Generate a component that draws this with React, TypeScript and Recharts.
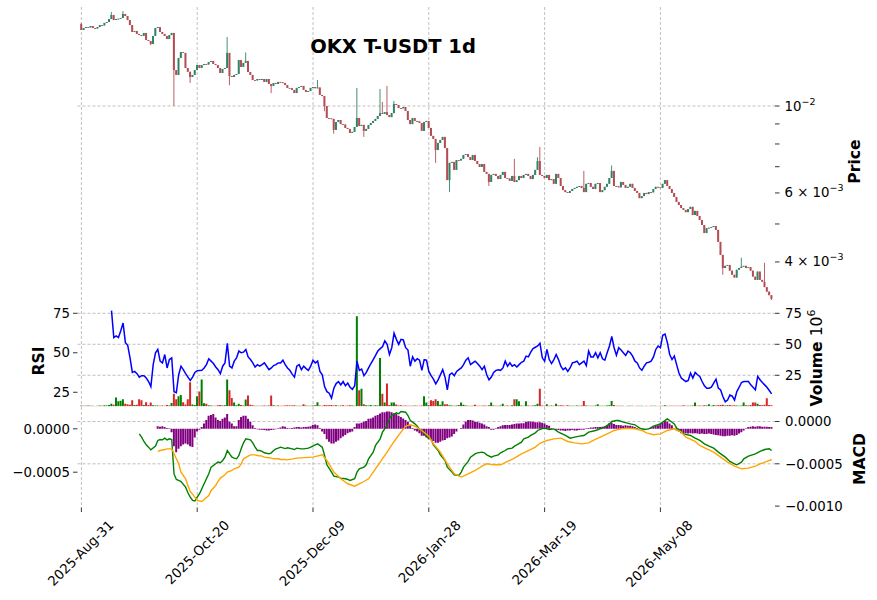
import React from 'react'
import { ComposedChart, Bar, Line, XAxis, YAxis, CartesianGrid, Cell } from 'recharts'

// ---- data ----

// x axis: one candle per day, day 0 = 2025-08-31
const tickIndexes = [0, 50, 100, 150, 200, 250]
const tickDates = ['2025-Aug-31', '2025-Oct-20', '2025-Dec-09', '2026-Jan-28', '2026-Mar-19', '2026-May-08']

// daily close, in 1e-4 USDT
const closes = [
  156.3, 158.1, 159.0, 158.6, 160.0, 158.1, 157.6, 159.0, 160.9, 160.5,
  162.9, 163.8, 166.7, 170.7, 165.7, 166.7, 167.0, 167.7, 171.7, 169.7,
  165.7, 160.9, 154.5, 155.4, 152.7, 151.7, 151.0, 153.6, 147.4, 146.5,
  143.9, 150.9, 158.1, 159.0, 154.5, 152.7, 150.9, 148.2, 151.7, 153.6,
  123.5, 120.0, 132.6, 137.3, 136.6, 125.0, 122.3, 118.6, 120.0, 123.5,
  127.2, 125.0, 127.2, 128.0, 127.6, 129.5, 130.3, 128.0, 127.2, 125.0,
  121.4, 124.3, 125.0, 136.6, 119.3, 118.6, 120.0, 120.7, 131.0, 125.8,
  128.8, 130.3, 122.1, 120.0, 116.5, 116.2, 117.2, 116.5, 117.2, 115.2,
  117.2, 113.8, 112.5, 114.5, 113.8, 115.2, 115.0, 114.5, 113.1, 111.2,
  111.0, 109.9, 107.9, 111.2, 111.8, 112.5, 109.9, 108.6, 109.2, 111.2,
  111.8, 111.0, 111.5, 106.7, 106.0, 100.0, 93.2, 93.0, 92.7, 86.9,
  91.0, 92.1, 89.9, 89.7, 87.9, 87.4, 85.4, 85.9, 88.4, 93.2,
  88.9, 89.5, 86.4, 87.4, 89.4, 90.5, 91.6, 92.7, 94.3, 95.9,
  95.5, 96.5, 94.8, 93.7, 95.9, 101.2, 100.6, 98.8, 98.6, 99.4,
  97.1, 92.1, 89.9, 93.2, 91.6, 91.4, 90.5, 86.4, 91.0, 91.6,
  87.9, 83.9, 82.4, 77.2, 80.5, 81.9, 83.4, 78.1, 64.7, 71.6,
  72.0, 68.7, 72.8, 72.6, 73.3, 75.0, 75.4, 74.1, 72.8, 75.0,
  72.4, 71.1, 69.9, 71.1, 67.9, 67.1, 64.0, 66.7, 67.1, 66.3,
  65.1, 66.7, 67.9, 65.5, 65.3, 64.4, 66.3, 64.0, 64.7, 66.3,
  65.5, 66.7, 67.1, 66.3, 65.1, 66.7, 68.7, 72.4, 66.7, 66.3,
  65.5, 66.7, 64.7, 65.1, 63.3, 67.1, 65.5, 62.5, 61.0, 60.3,
  60.0, 60.7, 61.4, 61.8, 62.2, 62.5, 61.8, 60.3, 63.3, 63.6,
  62.2, 61.4, 63.3, 63.6, 60.3, 61.0, 62.2, 63.3, 65.5, 68.3,
  62.5, 62.4, 62.0, 64.0, 62.9, 61.8, 62.2, 63.3, 61.8, 60.7,
  60.0, 58.2, 58.9, 60.0, 59.6, 60.3, 60.2, 61.4, 62.2, 62.0,
  61.8, 63.3, 64.7, 62.5, 61.4, 60.0, 58.6, 56.9, 55.9, 54.9,
  54.3, 53.6, 54.6, 55.3, 52.7, 54.0, 52.4, 51.2, 49.7, 47.4,
  48.8, 48.9, 49.1, 49.4, 48.3, 45.0, 41.7, 38.6, 39.1, 39.3,
  38.0, 37.1, 36.5, 38.2, 38.6, 38.9, 39.1, 38.6, 38.8, 38.0,
  36.7, 36.0, 37.8, 36.0, 35.6, 34.5, 33.6, 32.9, 32.2,
]
const firstOpen = 161.8

// visible wicks [day, price in 1e-4]
const wickHighs: [number, number][] = [
  [0, 163.0], [13, 173.7], [18, 174.7], [63, 150.0], [71, 137.0], [102, 116.5],
  [119, 111.2], [129, 110.5], [130, 102.4], [132, 112.5], [135, 103.0], [187, 73.3],
  [197, 74.0], [198, 78.6], [217, 68.3], [229, 70.5], [285, 41.0], [295, 39.8],
]
const wickLows: [number, number][] = [
  [30, 143.0], [40, 100.0], [47, 114.5], [64, 113.0], [82, 107.9], [105, 97.0],
  [109, 85.0], [122, 83.4], [153, 71.6], [159, 60.3], [176, 62.5], [277, 37.1], [298, 32.0],
]

// volume, millions
const volumes = [
  0.6, 0.4, 0.5, 0.7, 0.4, 0.5, 0.3, 0.4, 0.6, 0.5,
  0.8, 0.7, 1.0, 2.0, 1.2, 7.0, 4.0, 4.5, 5.6, 2.0,
  1.6, 1.2, 4.8, 1.0, 1.2, 5.6, 4.8, 1.0, 3.2, 1.0,
  3.0, 0.8, 0.7, 0.6, 0.5, 0.6, 0.5, 1.0, 0.6, 2.7,
  10.0, 5.6, 8.0, 9.0, 3.2, 1.5, 5.6, 19.4, 1.5, 1.0,
  8.0, 12.0, 21.5, 2.5, 2.0, 0.8, 0.6, 0.5, 0.4, 0.8,
  1.0, 0.6, 0.8, 21.5, 13.0, 6.7, 3.0, 0.8, 2.0, 1.0,
  0.6, 5.4, 8.6, 1.2, 0.8, 0.5, 0.4, 0.5, 0.4, 0.6,
  0.5, 0.6, 8.6, 0.8, 0.5, 0.6, 0.4, 0.5, 0.6, 0.8,
  0.7, 0.6, 0.8, 0.5, 0.4, 0.5, 1.6, 0.6, 0.5, 0.4,
  0.6, 0.8, 3.2, 0.6, 0.5, 1.0, 0.8, 0.9, 1.0, 0.6,
  0.8, 0.5, 0.6, 0.8, 0.5, 0.6, 0.8, 0.6, 0.5, 72.6,
  12.9, 14.2, 1.6, 0.8, 0.6, 1.0, 0.5, 0.8, 0.6, 39.0,
  10.0, 3.0, 18.3, 1.0, 3.0, 3.0, 1.5, 0.6, 0.8, 0.5,
  0.6, 0.5, 0.4, 0.5, 0.6, 0.4, 0.5, 0.6, 8.0, 3.0,
  1.0, 4.8, 4.3, 5.6, 4.3, 1.2, 4.0, 1.6, 1.6, 0.8,
  0.6, 0.5, 0.6, 1.0, 3.0, 1.2, 0.6, 0.5, 0.4, 0.5,
  1.2, 0.5, 0.4, 0.5, 0.6, 0.5, 0.8, 3.0, 0.6, 0.5,
  0.4, 0.6, 2.0, 0.5, 0.6, 0.5, 0.8, 5.6, 5.6, 4.0,
  0.6, 0.5, 4.0, 0.6, 0.5, 0.6, 0.8, 2.0, 14.2, 0.6,
  0.5, 1.6, 0.5, 0.6, 0.5, 2.0, 0.6, 0.8, 0.6, 0.5,
  0.8, 0.4, 0.5, 0.4, 0.6, 0.5, 0.6, 4.3, 0.6, 0.5,
  0.4, 0.5, 0.6, 1.6, 0.5, 0.4, 0.5, 0.6, 0.8, 4.3,
  1.0, 0.5, 0.4, 0.5, 0.4, 0.3, 0.4, 0.5, 0.4, 0.3,
  0.4, 0.5, 0.4, 0.3, 0.4, 0.3, 0.4, 0.5, 0.4, 0.3,
  0.4, 0.5, 0.8, 0.5, 0.4, 0.5, 0.4, 0.5, 0.4, 0.5,
  0.8, 0.5, 0.4, 0.5, 0.6, 3.0, 0.5, 0.6, 0.5, 0.8,
  0.6, 1.6, 0.5, 1.0, 0.6, 0.8, 1.0, 1.2, 0.6, 0.8,
  1.0, 0.6, 0.8, 0.6, 0.5, 0.6, 3.0, 0.8, 0.6, 1.0,
  3.0, 3.0, 2.0, 1.0, 0.8, 1.2, 6.5, 1.0, 0.8,
]

// RSI(14)
const rsiValues: (number | null)[] = [
  null, null, null, null, null, null, null, null, null, null,
  null, null, null, 76.7, 59.6, 60.7, 59.6, 63.9, 68.8, 56.4,
  54.7, 46.8, 37.6, 38.2, 36.8, 34.6, 35.5, 35.5, 34.0, 31.8,
  28.6, 42.5, 50.0, 52.1, 44.7, 43.6, 48.9, 40.4, 45.7, 46.8,
  25.4, 24.8, 36.1, 41.5, 39.3, 36.8, 34.6, 32.5, 34.6, 37.6,
  38.7, 38.8, 38.9, 40.4, 42.5, 46.2, 44.7, 43.2, 41.0, 39.3,
  36.8, 41.5, 43.6, 56.0, 41.5, 40.4, 44.7, 46.8, 51.1, 50.0,
  50.4, 52.1, 47.4, 45.7, 43.6, 41.0, 42.5, 41.5, 42.5, 43.6,
  41.5, 39.3, 40.4, 41.9, 42.5, 43.6, 43.6, 45.3, 42.5, 40.4,
  38.9, 36.5, 34.6, 41.5, 42.5, 39.3, 41.5, 40.0, 38.9, 41.5,
  45.3, 43.6, 44.7, 38.2, 36.1, 28.6, 25.4, 24.4, 21.2, 27.6,
  30.5, 31.8, 29.7, 31.8, 29.1, 30.8, 28.2, 26.9, 29.1, 44.7,
  38.9, 39.7, 35.5, 37.6, 40.4, 43.2, 45.7, 48.3, 51.1, 52.6,
  53.8, 57.5, 55.3, 48.9, 53.2, 62.4, 58.5, 55.3, 58.5, 58.1,
  53.2, 51.7, 41.5, 47.4, 44.7, 46.2, 45.3, 38.9, 45.7, 45.3,
  38.2, 35.5, 33.3, 30.3, 32.9, 36.0, 39.3, 34.6, 26.5, 36.1,
  37.2, 35.5, 38.2, 39.3, 40.4, 42.5, 45.3, 46.8, 42.5, 43.6,
  44.7, 43.2, 41.5, 39.3, 41.5, 36.1, 32.9, 34.6, 37.6, 38.9,
  39.3, 38.9, 40.4, 44.7, 41.5, 43.6, 41.5, 42.5, 41.0, 42.5,
  44.0, 44.7, 47.9, 47.4, 50.4, 52.6, 53.5, 54.3, 56.0, 46.8,
  44.7, 52.1, 45.7, 43.2, 45.7, 48.9, 45.7, 41.5, 39.3, 40.4,
  38.2, 40.4, 43.6, 44.0, 44.7, 42.5, 43.6, 44.7, 41.9, 51.1,
  47.4, 47.4, 50.0, 46.8, 50.0, 46.2, 45.3, 50.0, 54.3, 60.3,
  53.2, 48.5, 53.2, 51.7, 50.0, 48.3, 51.1, 50.0, 47.9, 44.7,
  43.6, 40.4, 38.9, 41.5, 43.6, 44.0, 44.7, 47.4, 52.1, 54.3,
  53.2, 61.1, 61.8, 56.4, 48.9, 45.7, 47.9, 42.5, 37.2, 34.0,
  32.9, 31.8, 32.5, 37.2, 34.0, 37.6, 36.1, 35.0, 31.8, 29.1,
  27.6, 27.6, 28.2, 30.8, 33.3, 27.6, 26.5, 22.2, 19.0, 20.1,
  23.3, 22.6, 20.1, 25.4, 28.2, 31.2, 31.8, 31.8, 31.8, 29.7,
  28.2, 26.5, 35.0, 32.9, 31.2, 29.7, 28.2, 26.1, 24.0,
]

// MACD line and signal, [day, value in 1e-4]
const macdPoints: [number, number][] = [
  [25, -1.46], [26, -1.85], [27, -2.36], [28, -2.76], [29, -3.03], [30, -3.35], [32, -2.91], [33, -2.24],
  [34, -2.13], [35, -2.17], [36, -1.97], [37, -2.17], [38, -2.05], [39, -2.13], [40, -6.2], [41, -6.85],
  [42, -6.97], [43, -7.09], [45, -7.76], [46, -8.43], [47, -8.94], [48, -9.33], [49, -9.4], [50, -8.94],
  [51, -8.54], [52, -7.95], [53, -7.36], [54, -6.77], [55, -6.18], [56, -5.39], [58, -5.0], [59, -4.8],
  [60, -4.88], [61, -4.61], [62, -4.21], [63, -3.43], [64, -3.82], [65, -4.21], [66, -4.33], [67, -4.41],
  [68, -4.02], [69, -3.23], [70, -2.52], [71, -2.05], [73, -2.17], [74, -2.52], [75, -3.03], [76, -3.43],
  [77, -3.43], [78, -3.54], [79, -3.7], [81, -3.82], [82, -3.7], [83, -3.43], [84, -3.23], [85, -3.15],
  [86, -3.03], [88, -3.2], [89, -3.1], [91, -3.23], [92, -3.31], [93, -3.15], [95, -3.23], [96, -3.23],
  [98, -3.15], [99, -3.03], [101, -2.76], [102, -2.64], [104, -3.03], [105, -4.02], [106, -5.12], [108, -5.98],
  [109, -6.46], [111, -6.57], [112, -6.69], [114, -6.77], [115, -6.85], [116, -6.97], [118, -6.77], [119, -5.98],
  [120, -5.59], [122, -5.39], [123, -5.12], [124, -4.41], [126, -3.62], [127, -2.83], [129, -2.05], [130, -1.26],
  [132, -0.47], [133, 0.31], [134, 0.71], [136, 1.02], [137, 0.91], [138, 1.18], [140, 1.1], [141, 0.71],
  [142, 0.12], [144, -0.28], [145, -0.55], [146, -0.94], [148, -1.34], [149, -1.73], [151, -2.13], [152, -2.76],
  [154, -3.43], [155, -3.94], [157, -4.61], [158, -5.39], [160, -5.98], [161, -6.3], [163, -6.38], [164, -5.98],
  [165, -5.39], [167, -4.72], [168, -4.21], [170, -3.82], [171, -3.7], [173, -3.62], [174, -3.7], [175, -3.94],
  [177, -4.21], [178, -4.09], [180, -3.94], [181, -3.7], [183, -3.43], [184, -3.23], [186, -3.15], [187, -2.91],
  [188, -2.76], [190, -2.44], [191, -2.05], [193, -1.85], [194, -1.65], [196, -1.34], [197, -1.06], [199, -0.83],
  [200, -0.79], [202, -0.94], [204, -0.87], [206, -1.26], [209, -1.65], [211, -1.97], [213, -1.85], [215, -1.73],
  [217, -1.65], [219, -1.26], [222, -1.06], [224, -0.87], [226, -0.67], [228, -0.28], [229, 0.0], [231, 0.12],
  [232, 0.12], [234, -0.08], [237, -0.28], [239, -0.39], [241, -0.79], [243, -0.94], [245, -0.87], [247, -0.55],
  [250, -0.28], [251, -0.08], [253, 0.31], [254, 0.12], [256, -0.28], [257, -0.79], [259, -1.18], [260, -1.46],
  [263, -1.65], [265, -1.97], [267, -2.24], [269, -2.64], [271, -2.91], [273, -3.15], [275, -3.62], [278, -4.21],
  [280, -4.72], [282, -5.0], [283, -5.12], [285, -4.8], [286, -4.41], [288, -4.09], [291, -3.82], [293, -3.54],
  [295, -3.31], [297, -3.23], [298, -3.43],
]
const signalPoints: [number, number][] = [
  [33, -3.54], [34, -3.43], [36, -3.31], [37, -3.23], [39, -3.23], [40, -3.82], [42, -5.0], [43, -5.98],
  [45, -6.77], [46, -7.56], [47, -8.27], [49, -8.94], [50, -9.33], [52, -9.45], [53, -9.21], [55, -8.74],
  [56, -8.15], [58, -7.56], [59, -7.09], [60, -6.69], [62, -6.3], [63, -5.98], [65, -5.79], [66, -5.59],
  [68, -5.39], [69, -5.0], [70, -4.41], [72, -4.09], [73, -3.94], [75, -3.94], [76, -4.02], [78, -4.09],
  [79, -4.21], [81, -4.29], [82, -4.33], [83, -4.41], [85, -4.41], [86, -4.49], [88, -4.49], [89, -4.53],
  [93, -4.33], [100, -4.21], [104, -3.94], [106, -4.61], [109, -5.98], [112, -6.77], [115, -7.36], [118, -7.64],
  [121, -7.24], [124, -6.77], [126, -5.98], [129, -4.8], [132, -3.62], [135, -2.36], [138, -1.26], [140, -0.55],
  [142, -0.39], [144, -0.55], [147, -1.06], [150, -1.73], [152, -2.64], [155, -3.62], [158, -5.0], [161, -6.18],
  [164, -6.57], [167, -6.18], [170, -5.79], [173, -5.28], [175, -5.0], [178, -5.12], [181, -5.12], [184, -4.72],
  [187, -4.33], [190, -3.82], [193, -3.43], [196, -3.03], [198, -2.58], [201, -2.24], [204, -2.05], [207, -1.97],
  [210, -2.36], [213, -2.52], [216, -2.64], [219, -2.52], [221, -2.24], [224, -1.85], [227, -1.46], [230, -1.06],
  [233, -0.87], [236, -0.79], [239, -0.87], [242, -1.06], [244, -1.34], [247, -1.57], [250, -1.46], [253, -1.06],
  [256, -0.87], [259, -1.26], [261, -1.85], [265, -2.36], [267, -2.83], [270, -3.23], [273, -3.62], [276, -4.21],
  [279, -4.8], [282, -5.28], [285, -5.59], [288, -5.51], [291, -5.28], [293, -5.0], [296, -4.72], [298, -4.49],
]

// MACD histogram, 1e-4
const histValues: (number | null)[] = [
  null, null, null, null, null, null, null, null, null, null,
  null, null, null, null, null, null, null, null, null, null,
  null, null, null, null, null, null, null, null, null, null,
  null, null, null, 0.3, 0.25, 0.3, 0.2, 0.1, 0.05, -0.4,
  -2.0, -2.7, -2.3, -2.0, -1.8, -1.7, -1.8, -2.0, -2.1, -1.0,
  -0.3, -0.1, 0.2, 0.6, 1.0, 1.5, 1.6, 1.7, 1.3, 1.0,
  0.9, 1.15, 1.3, 1.7, 0.8, 0.6, 0.3, 0.3, 1.0, 1.35,
  1.5, 1.5, 1.15, 0.8, 0.4, 0.1, -0.05, -0.1, -0.1, -0.15,
  -0.2, -0.2, -0.15, -0.1, -0.05, 0.05, 0.15, 0.3, 0.25, 0.1,
  0.05, 0.1, 0.15, 0.2, 0.2, 0.15, 0.2, 0.2, 0.25, 0.3,
  0.45, 0.5, 0.4, 0.1, -0.3, -0.6, -1.2, -1.5, -1.7, -1.7,
  -1.5, -1.35, -1.1, -0.9, -0.7, -0.5, -0.4, -0.3, 0.2, 0.6,
  0.6, 0.7, 0.8, 0.9, 1.15, 1.2, 1.3, 1.5, 1.6, 1.75,
  1.9, 1.9, 2.0, 2.0, 1.9, 1.8, 1.7, 1.5, 1.35, 1.2,
  1.0, 0.8, 0.4, 0.1, -0.2, -0.3, -0.5, -0.8, -0.8, -1.0,
  -1.2, -1.3, -1.4, -1.6, -1.6, -1.5, -1.35, -1.3, -1.1, -1.0,
  -0.9, -0.6, -0.3, 0.0, 0.1, 0.5, 0.85, 1.0, 1.0, 0.95,
  0.8, 0.8, 0.7, 0.6, 0.5, 0.3, 0.2, -0.1, -0.1, 0.05,
  0.2, 0.3, 0.4, 0.45, 0.45, 0.45, 0.5, 0.55, 0.6, 0.6,
  0.65, 0.65, 0.8, 0.85, 0.85, 0.8, 0.75, 0.75, 0.75, 0.7,
  0.6, 0.45, 0.35, 0.1, 0.0, -0.1, -0.15, -0.2, -0.2, -0.25,
  -0.2, -0.2, -0.15, -0.2, -0.2, -0.15, -0.1, -0.1, 0.05, 0.1,
  0.15, 0.15, 0.2, 0.2, 0.2, 0.25, 0.3, 0.45, 0.65, 0.7,
  0.55, 0.45, 0.45, 0.4, 0.35, 0.4, 0.35, 0.35, 0.3, 0.2,
  0.1, 0.0, -0.05, -0.05, 0.0, 0.05, 0.15, 0.3, 0.35, 0.4,
  0.6, 0.7, 0.9, 0.85, 0.6, 0.4, 0.1, -0.2, -0.3, -0.5,
  -0.55, -0.5, -0.55, -0.5, -0.55, -0.5, -0.55, -0.6, -0.55, -0.6,
  -0.6, -0.55, -0.6, -0.65, -0.7, -0.75, -0.8, -0.85, -0.85, -0.8,
  -0.8, -0.75, -0.8, -0.7, -0.55, -0.4, -0.2, 0.05, 0.2, 0.25,
  0.3, 0.25, 0.3, 0.3, 0.25, 0.25, 0.25, 0.2, 0.2,
]

// ---- styling ----
const FONT = 'DejaVu Sans, sans-serif'
const UP = '#338266'
const DOWN = '#b34d53'
const VOL_UP = '#008000'
const VOL_DOWN = '#d62728'
const GRID = '#b0b0b0'
const X_DOMAIN: [number, number] = [-1.68, 299.47]
const LEFT = 77.5
const RIGHT_W = 102
const UNIT = 1e-4

const highMap = new Map(wickHighs)
const lowMap = new Map(wickLows)
const macdMap = new Map(macdPoints)
const signalMap = new Map(signalPoints)

const rows = closes.map((c, i) => {
  const o = i === 0 ? firstOpen : closes[i - 1]
  const h = Math.max(o, c, highMap.get(i) ?? 0)
  const l = Math.min(o, c, lowMap.get(i) ?? Infinity)
  return {
    i,
    o: o * UNIT,
    c: c * UNIT,
    h: h * UNIT,
    l: l * UNIT,
    up: c >= o,
    vol: volumes[i],
    rsi: rsiValues[i],
    macd: macdMap.has(i) ? macdMap.get(i)! * UNIT : null,
    signal: signalMap.has(i) ? signalMap.get(i)! * UNIT : null,
    hist: histValues[i] == null ? null : histValues[i]! * UNIT,
  }
})

const Candle = (props: any) => {
  const { x, y, width, height, payload } = props
  if (x == null || y == null || !payload) return null
  const top = Math.min(y, y + height)
  const bot = Math.max(y, y + height)
  const cx = x + width / 2
  const lh = Math.log(payload.h)
  const ll = Math.log(payload.l)
  const py = (v: number) => (lh === ll ? top : top + ((lh - Math.log(v)) / (lh - ll)) * (bot - top))
  const color = payload.up ? UP : DOWN
  const yo = py(payload.o)
  const yc = py(payload.c)
  const bTop = Math.min(yo, yc)
  const bH = Math.max(Math.abs(yc - yo), 0.9)
  return (
    <g>
      <line x1={cx} x2={cx} y1={top} y2={bot} stroke={color} strokeWidth={0.9} />
      <rect x={cx - 1} y={bTop} width={2} height={bH} fill={color} />
    </g>
  )
}

const sup = (base: string, exp: string) => (
  <>
    {base}
    <tspan dy={-6} fontSize={9.5}>{exp}</tspan>
  </>
)

const PriceTick = (props: any) => {
  const { x, y, payload } = props
  const v = Math.round(payload.value / UNIT)
  let label: React.ReactNode = null
  if (v === 100) label = sup('10', '−2')
  if (v === 60) label = sup('6 × 10', '−3')
  if (v === 40) label = sup('4 × 10', '−3')
  if (!label) return null
  return (
    <text x={x} y={y} dy={4.5} fontSize={13.3} fontFamily={FONT} fill="#000" textAnchor="start">
      {label}
    </text>
  )
}

const fmt4 = (v: number) => (v < -1e-12 ? '−' : '') + Math.abs(v).toFixed(4)

const DateTick = (props: any) => {
  const { x, y, payload } = props
  const k = tickIndexes.indexOf(payload.value)
  const label = tickDates[k] ?? ''
  return (
    <text
      x={x + 33}
      y={y + 12}
      transform={`rotate(-45, ${x + 33}, ${y + 12})`}
      textAnchor="end"
      fontSize={13.3}
      fontFamily={FONT}
      fill="#000"
    >
      {label}
    </text>
  )
}

const tickStyle = { fontSize: 13.3, fontFamily: FONT, fill: '#000' }
const tickLine = { stroke: '#000', strokeWidth: 0.8 }

export default function App() {
  return (
    <div style={{ position: 'absolute', left: 0, top: 0, width: 877, height: 600, background: '#fff' }}>
      {/* price panel */}
      <div style={{ position: 'absolute', left: 0, top: 0 }}>
        <ComposedChart width={877} height={306} data={rows} margin={{ top: 7, right: 0, bottom: 0, left: LEFT }}>
          <CartesianGrid
            yAxisId="p"
            stroke={GRID}
            strokeDasharray="3 2"
            strokeWidth={0.8}
            horizontalValues={[0.01]}
            verticalValues={tickIndexes}
          />
          <XAxis type="number" dataKey="i" domain={X_DOMAIN} allowDataOverflow hide />
          <YAxis
            yAxisId="p"
            orientation="right"
            scale="log"
            domain={[0.003088, 0.01789]}
            allowDataOverflow
            ticks={[0.004, 0.005, 0.006, 0.007, 0.008, 0.009, 0.01]}
            width={RIGHT_W}
            axisLine={false}
            tickLine={tickLine}
            tickSize={4.5}
            tickMargin={5}
            tick={<PriceTick />}
            interval={0}
          />
          <Bar
            yAxisId="p"
            dataKey={(d: any) => [d.l, d.h]}
            barSize={2}
            shape={<Candle />}
            isAnimationActive={false}
          />
        </ComposedChart>
      </div>

      {/* volume + RSI panel */}
      <div style={{ position: 'absolute', left: 0, top: 296 }}>
        <ComposedChart width={877} height={111} data={rows} margin={{ top: 10, right: 0, bottom: 0.5, left: 0 }}>
          <CartesianGrid
            yAxisId="v"
            stroke={GRID}
            strokeDasharray="3 2"
            strokeWidth={0.8}
            horizontalValues={[25, 50, 75]}
            verticalValues={tickIndexes}
          />
          <XAxis type="number" dataKey="i" domain={X_DOMAIN} allowDataOverflow hide />
          <YAxis
            yAxisId="rsi"
            orientation="left"
            domain={[16.0, 79.6]}
            allowDataOverflow
            ticks={[25, 50, 75]}
            width={LEFT}
            axisLine={false}
            tickLine={tickLine}
            tickSize={4.5}
            tickMargin={3}
            tick={tickStyle}
            interval={0}
          />
          <YAxis
            yAxisId="v"
            orientation="right"
            domain={[-0.2, 80.9]}
            allowDataOverflow
            ticks={[25, 50, 75]}
            width={RIGHT_W}
            axisLine={false}
            tickLine={tickLine}
            tickSize={4.5}
            tickMargin={5.5}
            tick={{ ...tickStyle, textAnchor: 'start' }}
            interval={0}
          />
          <Bar yAxisId="v" dataKey="vol" barSize={2} isAnimationActive={false}>
            {rows.map((r) => (
              <Cell key={r.i} fill={r.up ? VOL_UP : VOL_DOWN} />
            ))}
          </Bar>
          <Line
            yAxisId="rsi"
            dataKey="rsi"
            stroke="#0000ff"
            strokeWidth={1.5}
            dot={false}
            isAnimationActive={false}
          />
        </ComposedChart>
      </div>

      {/* MACD panel */}
      <div style={{ position: 'absolute', left: 0, top: 396.5 }}>
        <ComposedChart width={877} height={203.5} data={rows} margin={{ top: 10, right: 0, bottom: 0, left: 0 }}>
          <CartesianGrid
            yAxisId="m"
            stroke={GRID}
            strokeDasharray="3 2"
            strokeWidth={0.8}
            horizontalValues={[0, -0.0005]}
            verticalValues={tickIndexes}
          />
          <XAxis
            type="number"
            dataKey="i"
            domain={X_DOMAIN}
            allowDataOverflow
            ticks={tickIndexes}
            interval={0}
            height={93}
            axisLine={false}
            tickLine={tickLine}
            tickSize={4.5}
            tick={<DateTick />}
          />
          <YAxis
            yAxisId="h"
            orientation="left"
            domain={[-0.0009067, 0.0002512]}
            allowDataOverflow
            ticks={[-0.0005, 0]}
            width={LEFT}
            axisLine={false}
            tickLine={tickLine}
            tickSize={4.5}
            tickMargin={3}
            tick={tickStyle}
            tickFormatter={fmt4}
            interval={0}
          />
          <YAxis
            yAxisId="m"
            orientation="right"
            domain={[-0.0010165, 0.0001714]}
            allowDataOverflow
            ticks={[-0.001, -0.0005, 0]}
            width={RIGHT_W}
            axisLine={false}
            tickLine={tickLine}
            tickSize={4.5}
            tickMargin={5.5}
            tick={{ ...tickStyle, textAnchor: 'start' }}
            tickFormatter={fmt4}
            interval={0}
          />
          <Bar yAxisId="h" dataKey="hist" fill="#800080" barSize={2} isAnimationActive={false} />
          <Line yAxisId="m" dataKey="macd" stroke="#008000" strokeWidth={1.4} dot={false} connectNulls isAnimationActive={false} />
          <Line yAxisId="m" dataKey="signal" stroke="#ffa500" strokeWidth={1.4} dot={false} connectNulls isAnimationActive={false} />
        </ComposedChart>
      </div>

      {/* title and axis labels */}
      <svg width={877} height={600} style={{ position: 'absolute', left: 0, top: 0, pointerEvents: 'none' }}>
        <text x={393} y={53} textAnchor="middle" fontFamily={FONT} fontWeight="bold" fontSize={19.5}>
          OKX T-USDT 1d
        </text>
        <text x={860} y={161.5} transform="rotate(-90, 860, 161.5)" textAnchor="middle" fontFamily={FONT} fontWeight="bold" fontSize={15.6}>
          Price
        </text>
        <text x={43.5} y={361} transform="rotate(-90, 43.5, 361)" textAnchor="middle" fontFamily={FONT} fontWeight="bold" fontSize={15.6}>
          RSI
        </text>
        <text x={822} y={358} transform="rotate(-90, 822, 358)" textAnchor="middle" fontFamily={FONT} fontSize={15.6}>
          <tspan fontWeight="bold">Volume</tspan>
          <tspan>{'  10'}</tspan>
          <tspan dy={-7} fontSize={11}>6</tspan>
        </text>
        <text x={865} y={459} transform="rotate(-90, 865, 459)" textAnchor="middle" fontFamily={FONT} fontWeight="bold" fontSize={15.6}>
          MACD
        </text>
      </svg>
    </div>
  )
}
